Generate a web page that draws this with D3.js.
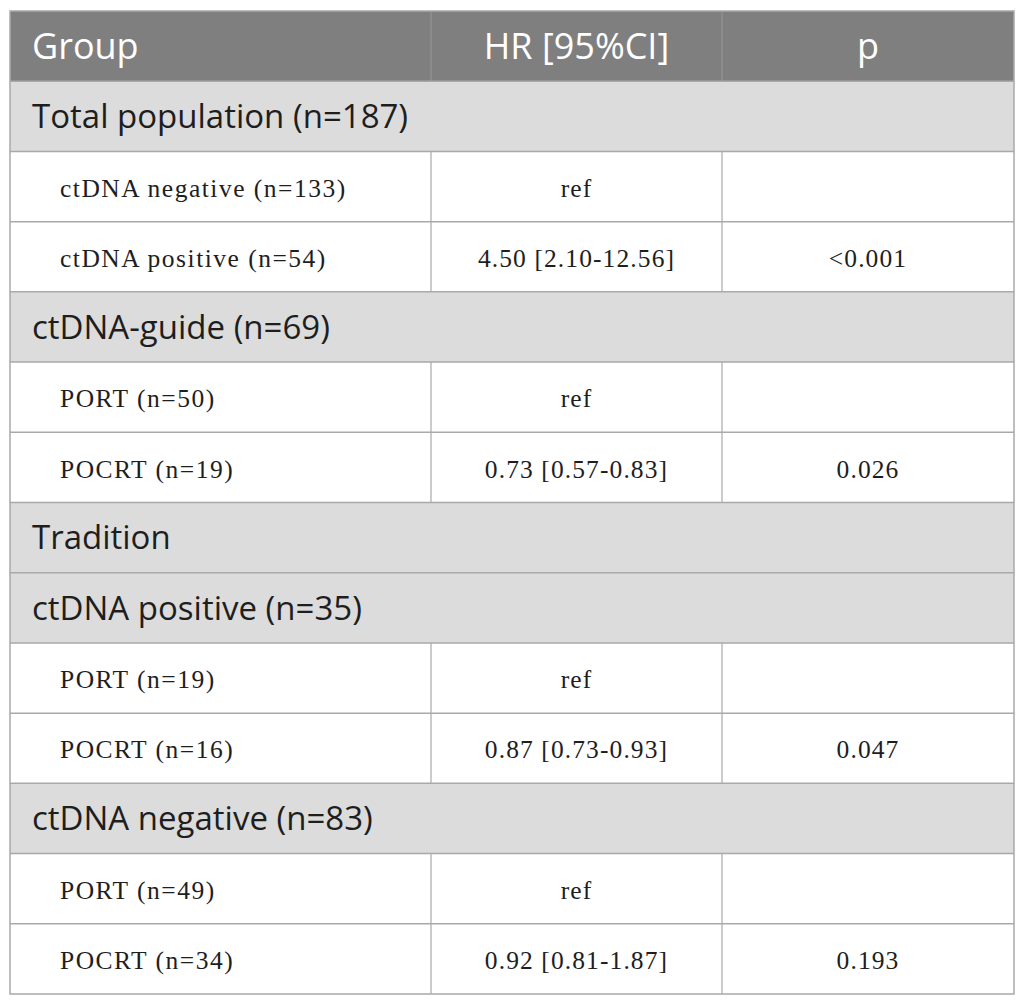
<!DOCTYPE html>
<html><head><meta charset="utf-8">
<script src="https://cdn.jsdelivr.net/npm/d3@7/dist/d3.min.js"></script>
<style>body{margin:0;background:#fff}</style>
</head><body>
<script>
const headers = ["Group", "HR [95%CI]", "p"];
const rowLabels = ["Total population (n=187)", "ctDNA negative (n=133)", "ctDNA positive (n=54)",
  "ctDNA-guide (n=69)", "PORT (n=50)", "POCRT (n=19)", "Tradition",
  "ctDNA positive (n=35)", "PORT (n=19)", "POCRT (n=16)",
  "ctDNA negative (n=83)", "PORT (n=49)", "POCRT (n=34)"];
const rowKinds = ["section","data","data","section","data","data","section","section","data","data","section","data","data"];
const hrValues = ["", "ref", "4.50 [2.10-12.56]", "", "ref", "0.73 [0.57-0.83]", "", "", "ref", "0.87 [0.73-0.93]", "", "ref", "0.92 [0.81-1.87]"];
const pValues = ["", "", "<0.001", "", "", "0.026", "", "", "", "0.047", "", "", "0.193"];

const W = 1025, H = 1006;
const tL = 10, tR = 1014, tT = 11, tB = 994;
const svg = d3.select("body").append("svg").attr("width", W).attr("height", H);

const rowIds = d3.range(rowLabels.length + 1);
const y = d3.scaleBand().domain(rowIds).range([tT, tB]).paddingInner(0).paddingOuter(0);
const colEdges = [tL, 431, 722, tR];
const x = d3.scaleOrdinal().domain([0,1,2]).range([tL, 431, 722]);
const colW = i => colEdges[i+1] - colEdges[i];

const border = "#a9a9a9";
const sans = "'Open Sans', sans-serif";
const serif = "'Liberation Serif', serif";
const ink = "#1e1e1e";

// header
const hdr = svg.append("g");
hdr.append("rect").attr("x", tL).attr("y", y(0)).attr("width", tR-tL).attr("height", y.bandwidth()).attr("fill", "#7f7f7f");
hdr.selectAll("line.hd").data([1,2]).join("line")
  .attr("x1", d => x(d)).attr("x2", d => x(d)).attr("y1", y(0)).attr("y2", y(0)+y.bandwidth())
  .attr("stroke", "#999999").attr("stroke-width", 1);
hdr.selectAll("text").data(headers).join("text")
  .attr("x", (d,i) => i === 0 ? tL + 22 : x(i) + colW(i)/2)
  .attr("y", y(0) + y.bandwidth()/2)
  .attr("dy", "0.36em")
  .attr("text-anchor", (d,i) => i === 0 ? "start" : "middle")
  .attr("font-family", sans).attr("font-size", 36)
  .attr("fill", "#ffffff").text(d => d);

const rows = rowLabels.map((label, i) => ({label, kind: rowKinds[i], hr: hrValues[i], p: pValues[i], id: i+1}));

const g = svg.append("g");
const rg = g.selectAll("g.row").data(rows).join("g").attr("class","row");
rg.append("rect")
  .attr("x", tL).attr("y", d => y(d.id)).attr("width", tR-tL).attr("height", y.bandwidth())
  .attr("fill", d => d.kind === "section" ? "#dcdcdc" : "#ffffff");

rg.filter(d => d.kind === "data").selectAll("line.v").data(d => [1,2].map(c => ({c, id: d.id}))).join("line")
  .attr("x1", d => x(d.c)).attr("x2", d => x(d.c)).attr("y1", d => y(d.id)).attr("y2", d => y(d.id)+y.bandwidth())
  .attr("stroke", border).attr("stroke-width", 1.2);

rg.append("text")
  .attr("x", d => d.kind === "section" ? tL + 22 : tL + 50)
  .attr("y", d => y(d.id) + y.bandwidth()/2)
  .attr("dy", d => d.kind === "section" ? "0.36em" : "0.4em")
  .attr("font-family", d => d.kind === "section" ? sans : serif)
  .attr("font-size", d => d.kind === "section" ? 33 : 25.5)
  .attr("letter-spacing", d => d.kind === "section" ? 0 : 1.5)
  .attr("fill", ink).text(d => d.label);

const dataRows = rg.filter(d => d.kind === "data");
[[1, "hr"], [2, "p"]].forEach(([c, key]) => {
  dataRows.append("text")
    .attr("x", x(c) + colW(c)/2).attr("y", d => y(d.id) + y.bandwidth()/2).attr("dy", "0.4em")
    .attr("text-anchor", "middle").attr("font-family", serif).attr("font-size", 25.5)
    .attr("letter-spacing", 1.1)
    .attr("fill", ink).text(d => d[key]);
});

svg.selectAll("line.h").data(rowIds.slice(1)).join("line").attr("class","h")
  .attr("x1", tL).attr("x2", tR)
  .attr("y1", d => y(d)).attr("y2", d => y(d))
  .attr("stroke", border).attr("stroke-width", 1.5);
svg.append("rect").attr("x", tL).attr("y", tT).attr("width", tR-tL).attr("height", tB-tT)
  .attr("fill", "none").attr("stroke", border).attr("stroke-width", 1.5);
</script>
</body></html>
